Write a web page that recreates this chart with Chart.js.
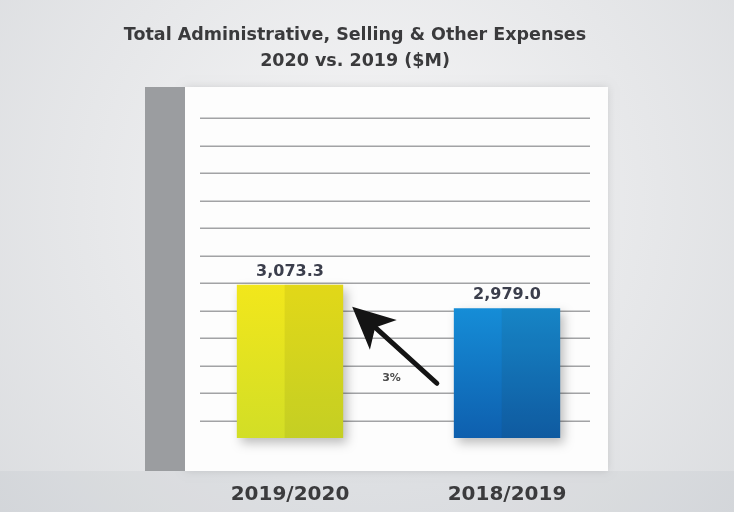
<!DOCTYPE html>
<html>
<head>
<meta charset="utf-8">
<script src="https://cdn.jsdelivr.net/npm/chart.js@4/dist/chart.umd.min.js"></script>
<style>
  html, body { margin: 0; padding: 0; background: #e4e5e8; }
  #wrap { width: 734px; height: 512px; position: relative; }
  canvas { display: block; }
</style>
</head>
<body>
<div id="wrap"><canvas id="chart" width="734" height="512"></canvas></div>
<script>
// Fiscal-year categories and total expenses ($M)
const categories = ['2019/2020', '2018/2019'];
const expenses = [3073.3, 2979.0];
const titleLines = ['Total Administrative, Selling & Other Expenses', '2020 vs. 2019 ($M)'];

// Value axis window and ruled-line step
const axisMin = 2460;
const axisMax = 3812;
const ruleStep = 110;

// Bar colours: top / bottom of each bar
const barTop = ['#f3e71b', '#1797e0'];
const barBottom = ['#d2de26', '#0e5fae'];

const fmt = v => v.toLocaleString('en-US', { minimumFractionDigits: 1, maximumFractionDigits: 1 });
const changePct = Math.round((expenses[0] / expenses[1] - 1) * 100) + '%';

const FONT = "'DejaVu Sans', 'Open Sans', sans-serif";

// Backdrop: soft grey card, white board with a dark grey edge strip
const backdrop = {
  id: 'backdrop',
  beforeDraw(chart) {
    const { ctx, width, height } = chart;
    ctx.save();
    const g = ctx.createRadialGradient(370, 200, 40, 370, 200, 520);
    g.addColorStop(0, '#f4f4f5');
    g.addColorStop(1, '#d9dbde');
    ctx.fillStyle = g;
    ctx.fillRect(0, 0, width, height);
    ctx.fillStyle = 'rgba(120,130,140,0.07)';
    ctx.fillRect(0, 471, width, height - 471);
    // board
    ctx.shadowColor = 'rgba(0,0,0,0.12)';
    ctx.shadowBlur = 8;
    ctx.fillStyle = '#fdfdfd';
    ctx.fillRect(185, 87, 423, 384);
    ctx.shadowColor = 'transparent';
    ctx.fillStyle = '#9b9da0';
    ctx.fillRect(145, 87, 40, 384);
    ctx.restore();
  }
};

// Horizontal rules at the value-axis ticks
const rules = {
  id: 'rules',
  beforeDatasetsDraw(chart) {
    const { ctx } = chart;
    const y = chart.scales.y;
    ctx.save();
    ctx.strokeStyle = '#a2a3a5';
    ctx.lineWidth = 1.5;
    y.ticks.forEach(t => {
      const py = Math.round(y.getPixelForValue(t.value)) + 0.25;
      ctx.beginPath();
      ctx.moveTo(200, py);
      ctx.lineTo(590, py);
      ctx.stroke();
    });
    ctx.restore();
  }
};

// Soft drop shadow behind the bars
const barShadow = {
  id: 'barShadow',
  beforeDatasetDraw(chart) {
    const ctx = chart.ctx;
    ctx.save();
    ctx.shadowColor = 'rgba(0,0,0,0.26)';
    ctx.shadowBlur = 10;
    ctx.shadowOffsetX = 4;
    ctx.shadowOffsetY = 5;
  },
  afterDatasetDraw(chart) {
    chart.ctx.restore();
  }
};

// Value captions, two-tone shading and the change arrow
const annotations = {
  id: 'annotations',
  afterDatasetsDraw(chart) {
    const { ctx } = chart;
    const bars = chart.getDatasetMeta(0).data;
    ctx.save();
    // darker right-hand face of each bar
    bars.forEach(b => {
      const left = b.x - b.width / 2;
      const split = left + b.width * 0.45;
      ctx.fillStyle = 'rgba(40,40,0,0.08)';
      ctx.fillRect(split, b.y, b.x + b.width / 2 - split, b.base - b.y);
    });
    // value captions
    ctx.fillStyle = '#3b3e4c';
    ctx.font = `bold 16px ${FONT}`;
    ctx.textAlign = 'center';
    ctx.textBaseline = 'middle';
    bars.forEach((b, i) => ctx.fillText(fmt(expenses[i]), b.x, b.y - 13));

    // arrow from the earlier year up to the later one
    const a = bars[0], c = bars[1];
    const tip = { x: a.x + a.width / 2 + 9, y: a.y + 22 };
    const tail = { x: c.x - c.width / 2 - 17, y: c.y + 75 };
    const dx = tail.x - tip.x, dy = tail.y - tip.y;
    const len = Math.hypot(dx, dy);
    const ux = dx / len, uy = dy / len;
    const px = -uy, py = ux;
    const L = 42, W = 20, N = 31;
    ctx.strokeStyle = '#141414';
    ctx.fillStyle = '#141414';
    ctx.lineWidth = 5;
    ctx.lineCap = 'round';
    ctx.beginPath();
    ctx.moveTo(tail.x, tail.y);
    ctx.lineTo(tip.x + ux * N, tip.y + uy * N);
    ctx.stroke();
    ctx.beginPath();
    ctx.moveTo(tip.x, tip.y);
    ctx.lineTo(tip.x + ux * L + px * W, tip.y + uy * L + py * W);
    ctx.lineTo(tip.x + ux * N, tip.y + uy * N);
    ctx.lineTo(tip.x + ux * L - px * W, tip.y + uy * L - py * W);
    ctx.closePath();
    ctx.fill();

    // change caption
    ctx.fillStyle = '#4d4d4d';
    ctx.font = `bold 11px ${FONT}`;
    const mid = (a.x + a.width / 2 + c.x - c.width / 2) / 2;
    ctx.fillText(changePct, mid - 7, c.y + 70);
    ctx.restore();
  }
};

new Chart(document.getElementById('chart'), {
  type: 'bar',
  data: {
    labels: categories,
    datasets: [{
      data: expenses,
      base: axisMin,
      clip: false,
      backgroundColor(ctx) {
        const area = ctx.chart.chartArea;
        const i = ctx.dataIndex;
        if (!area) return barTop[i];
        const g = ctx.chart.ctx.createLinearGradient(0, area.top + 180, 0, area.bottom);
        g.addColorStop(0, barTop[i]);
        g.addColorStop(1, barBottom[i]);
        return g;
      },
      borderWidth: 0,
      categoryPercentage: 1,
      barPercentage: 0.49
    }]
  },
  options: {
    responsive: false,
    animation: false,
    events: [],
    layout: { padding: { left: 0, right: 24, top: 0, bottom: 5 } },
    plugins: {
      legend: { display: false },
      tooltip: { enabled: false },
      title: {
        display: true,
        text: titleLines,
        color: '#3a3a3c',
        font: { family: FONT, size: 17.5, weight: 'bold', lineHeight: 1.486 },
        padding: { top: 22, bottom: 26 }
      }
    },
    scales: {
      x: {
        grid: { display: false, drawTicks: false, tickLength: 0 },
        border: { display: false },
        ticks: {
          color: '#3b3b3d',
          font: { family: FONT, size: 20, weight: 'bold' },
          padding: 45
        },
        afterFit(s) { s.height = 69; }
      },
      y: {
        position: 'left',
        min: axisMin,
        max: axisMax,
        grid: { display: false, drawTicks: false },
        border: { display: false },
        ticks: { display: false, stepSize: ruleStep, maxTicksLimit: 30, includeBounds: false },
        afterFit(s) { s.width = 181.5; }
      },
      yR: {
        position: 'right',
        grid: { display: false, drawTicks: false },
        border: { display: false },
        ticks: { display: false },
        afterFit(s) { s.width = 94.5; }
      }
    }
  },
  plugins: [backdrop, rules, barShadow, annotations]
});
</script>
</body>
</html>
